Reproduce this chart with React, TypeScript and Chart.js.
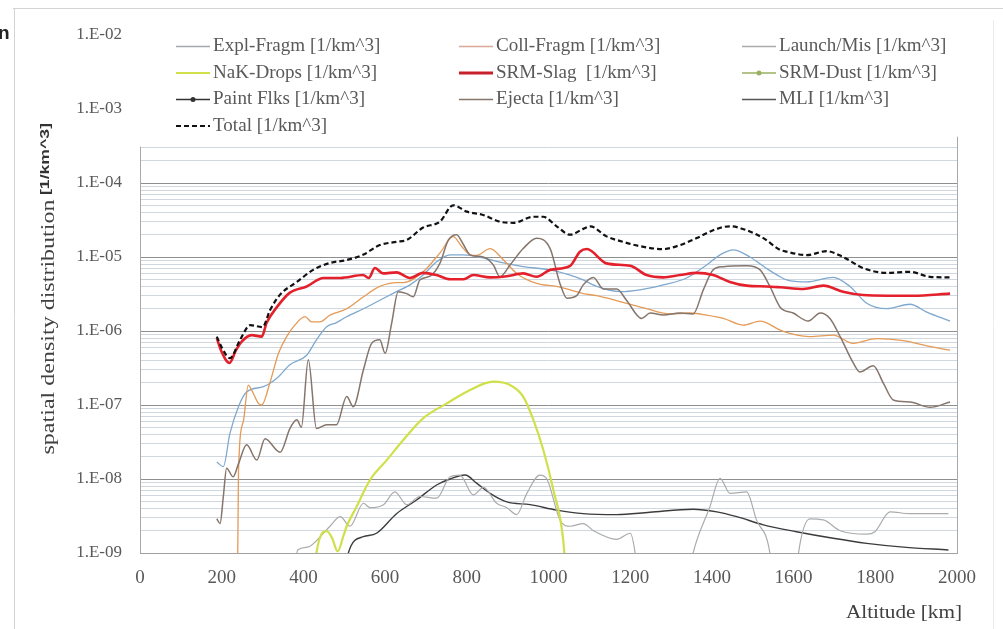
import React, { useEffect, useRef } from 'react';
import { Chart, registerables } from 'chart.js';

Chart.register(...registerables);

// ---------- Data (altitude km, density 1/km^3) ----------
const seriesLabels = [
  'Expl-Fragm [1/km^3]', 'Coll-Fragm [1/km^3]', 'Launch/Mis [1/km^3]',
  'NaK-Drops [1/km^3]', 'SRM-Slag  [1/km^3]', 'SRM-Dust [1/km^3]',
  'Paint Flks [1/km^3]', 'Ejecta [1/km^3]', 'MLI [1/km^3]',
  'Total [1/km^3]',
];

const explData: [number, number][] = [
  [188, 1.7e-8], [204, 1.47e-8], [220, 4.1e-8], [241, 9.5e-8], [261, 1.5e-7], [302, 1.77e-7],
  [335, 2.3e-7], [367, 3.5e-7], [408, 4.7e-7], [432, 7.6e-7], [457, 1.14e-6], [481, 1.3e-6],
  [506, 1.56e-6], [547, 2.0e-6], [587, 2.6e-6], [628, 3.4e-6], [661, 4.2e-6], [693, 5.7e-6],
  [726, 8.6e-6], [759, 1.07e-5], [792, 1.07e-5], [840, 9.7e-6], [890, 8.3e-6], [938, 7.4e-6],
  [1004, 6.7e-6], [1053, 5.7e-6], [1085, 4.9e-6], [1118, 4.0e-6], [1175, 3.4e-6], [1224, 3.6e-6],
  [1281, 4.2e-6], [1338, 5.2e-6], [1387, 7.8e-6], [1420, 1.07e-5], [1452, 1.25e-5], [1493, 1.0e-5],
  [1534, 7.0e-6], [1567, 5.4e-6], [1583, 4.9e-6], [1632, 4.6e-6], [1697, 5.3e-6], [1738, 4.0e-6],
  [1779, 2.37e-6], [1828, 2.0e-6], [1885, 2.3e-6], [1926, 1.8e-6], [1983, 1.36e-6],
];

const collData: [number, number][] = [
  [238, 1e-10], [241, 1.2e-8], [253, 6.0e-8], [265, 1.86e-7], [273, 1.6e-7], [290, 1.05e-7],
  [298, 1.0e-7], [318, 2.0e-7], [339, 5.0e-7], [359, 8.4e-7], [379, 1.2e-6], [404, 1.56e-6],
  [420, 1.33e-6], [440, 1.33e-6], [465, 1.64e-6], [506, 2.0e-6], [547, 2.9e-6], [587, 4.0e-6],
  [628, 4.5e-6], [645, 4.5e-6], [693, 6.3e-6], [734, 1.13e-5], [767, 1.88e-5], [787, 1.4e-5],
  [808, 1.07e-5], [824, 1.05e-5], [857, 1.3e-5], [890, 9.1e-6], [922, 6.0e-6], [971, 4.4e-6],
  [1020, 4.0e-6], [1053, 3.6e-6], [1085, 3.2e-6], [1118, 3.0e-6], [1175, 2.5e-6], [1240, 2.0e-6],
  [1297, 1.7e-6], [1346, 1.75e-6], [1387, 1.64e-6], [1428, 1.48e-6], [1477, 1.2e-6], [1518, 1.36e-6],
  [1567, 1.03e-6], [1591, 9.3e-7], [1640, 8.4e-7], [1697, 8.8e-7], [1746, 6.8e-7], [1803, 7.9e-7],
  [1869, 7.4e-7], [1926, 6.3e-7], [1983, 5.5e-7],
];

const launchData: [number, number][] = [
  [374, 3e-10], [386, 1.1e-9], [410, 1.2e-9], [449, 1.85e-9], [465, 2.3e-9], [490, 3.1e-9],
  [514, 2.3e-9], [547, 4.7e-9], [563, 4.1e-9], [596, 4.5e-9], [624, 6.7e-9], [653, 4.5e-9],
  [685, 5.8e-9], [726, 5.5e-9], [759, 1.07e-8], [783, 1.13e-8], [816, 6.1e-9], [841, 7.7e-9],
  [873, 4.7e-9], [898, 4.1e-9], [922, 3.3e-9], [947, 6.4e-9], [979, 1.13e-8], [996, 1.0e-8],
  [1028, 2.8e-9], [1053, 2.3e-9], [1085, 2.5e-9], [1110, 2.0e-9], [1167, 1.53e-9], [1200, 1.85e-9],
  [1212, 1.0e-9], [1225, 2e-10], [1330, 2e-10], [1354, 1.0e-9], [1395, 4.2e-9], [1420, 1.02e-8],
  [1444, 6.4e-9], [1485, 6.7e-9], [1509, 2.8e-9], [1542, 1.0e-9], [1555, 2e-10], [1600, 2e-10],
  [1612, 1.0e-9], [1640, 2.9e-9], [1673, 2.8e-9], [1714, 2.0e-9], [1779, 1.8e-9], [1799, 1.94e-9],
  [1836, 3.6e-9], [1885, 3.4e-9], [1979, 3.4e-9],
];

const nakData: [number, number][] = [
  [420, 2e-10], [432, 1.0e-9], [457, 1.97e-9], [470, 1.6e-9], [484, 1.05e-9], [498, 1.7e-9],
  [506, 2.3e-9], [530, 4.2e-9], [563, 9.7e-9], [604, 1.8e-8], [645, 3.4e-8], [693, 6.6e-8],
  [751, 1.05e-7], [808, 1.6e-7], [865, 2.07e-7], [906, 1.86e-7], [938, 1.3e-7], [963, 6.3e-8],
  [987, 2.5e-8], [1012, 7.1e-9], [1036, 1.5e-9], [1045, 3e-10],
];

const slagData: [number, number][] = [
  [188, 8.0e-7], [200, 5.2e-7], [219, 3.7e-7], [235, 5.5e-7], [249, 7.2e-7], [273, 8.8e-7],
  [298, 8.4e-7], [310, 1.29e-6], [335, 2.1e-6], [367, 3.3e-6], [408, 4.0e-6], [449, 5.2e-6],
  [490, 5.2e-6], [546, 5.7e-6], [560, 5.2e-6], [575, 7.1e-6], [595, 6.0e-6], [628, 6.2e-6],
  [661, 5.2e-6], [693, 6.1e-6], [726, 5.7e-6], [759, 5.0e-6], [792, 5.0e-6], [816, 5.7e-6],
  [857, 5.3e-6], [898, 5.5e-6], [938, 6.0e-6], [971, 5.4e-6], [1004, 6.7e-6], [1053, 7.6e-6],
  [1077, 1.18e-5], [1094, 1.28e-5], [1142, 8.2e-6], [1200, 7.6e-6], [1240, 5.7e-6], [1281, 5.3e-6],
  [1322, 5.7e-6], [1363, 6.1e-6], [1403, 5.7e-6], [1444, 4.6e-6], [1485, 4.1e-6], [1534, 4.0e-6],
  [1567, 3.9e-6], [1624, 3.7e-6], [1673, 4.1e-6], [1721, 3.4e-6], [1770, 3.06e-6], [1828, 3.0e-6],
  [1893, 3.0e-6], [1983, 3.2e-6],
];

const dustData: [number, number][] = [];
const paintData: [number, number][] = [];

const ejectaData: [number, number][] = [
  [188, 2.9e-9], [196, 2.5e-9], [204, 5.8e-9], [212, 1.4e-8], [228, 1.07e-8], [241, 1.6e-8],
  [261, 2.9e-8], [286, 1.8e-8], [306, 3.5e-8], [343, 2.3e-8], [367, 4.8e-8], [384, 6.3e-8],
  [395, 5.0e-8], [412, 4.1e-7], [432, 4.8e-8], [457, 5.4e-8], [481, 5.4e-8], [506, 1.3e-7],
  [522, 9.5e-8], [547, 3.0e-7], [567, 6.8e-7], [587, 7.6e-7], [600, 5.0e-7], [616, 1.27e-6],
  [632, 3.4e-6], [653, 3.2e-6], [669, 2.9e-6], [685, 4.9e-6], [710, 5.5e-6], [734, 8.2e-6],
  [755, 1.7e-5], [775, 2.0e-5], [791, 1.5e-5], [808, 1.07e-5], [840, 1.0e-5], [865, 7.8e-6],
  [881, 5.4e-6], [906, 7.8e-6], [938, 1.3e-5], [971, 1.79e-5], [1004, 1.3e-5], [1028, 4.4e-6],
  [1045, 2.77e-6], [1069, 3.0e-6], [1085, 4.2e-6], [1110, 5.3e-6], [1134, 3.7e-6], [1167, 3.7e-6],
  [1191, 2.6e-6], [1228, 1.48e-6], [1249, 1.75e-6], [1281, 1.64e-6], [1322, 1.75e-6], [1354, 1.7e-6],
  [1379, 3.6e-6], [1403, 6.7e-6], [1428, 7.4e-6], [1485, 7.6e-6], [1518, 6.7e-6], [1542, 4.0e-6],
  [1567, 2.1e-6], [1599, 1.75e-6], [1636, 1.36e-6], [1665, 1.75e-6], [1689, 1.48e-6], [1714, 8.4e-7],
  [1746, 3.7e-7], [1762, 2.8e-7], [1795, 3.4e-7], [1820, 1.96e-7], [1844, 1.17e-7], [1885, 1.1e-7],
  [1934, 9.3e-8], [1983, 1.1e-7],
];

const mliData: [number, number][] = [
  [498, 2e-10], [510, 1.0e-9], [547, 1.66e-9], [579, 1.85e-9], [628, 3.4e-9], [677, 5.2e-9],
  [726, 8.3e-9], [759, 1.0e-8], [796, 1.13e-8], [824, 8.8e-9], [857, 6.4e-9], [898, 4.9e-9],
  [955, 4.5e-9], [1020, 3.8e-9], [1085, 3.4e-9], [1167, 3.3e-9], [1248, 3.55e-9], [1354, 3.9e-9],
  [1412, 3.6e-9], [1461, 3.1e-9], [1526, 2.4e-9], [1607, 1.94e-9], [1697, 1.58e-9], [1779, 1.35e-9],
  [1869, 1.2e-9], [1979, 1.1e-9],
];

const totalData: [number, number][] = [
  [188, 8.4e-7], [200, 6.0e-7], [220, 4.3e-7], [245, 7.6e-7], [270, 1.2e-6], [300, 1.13e-6],
  [318, 1.9e-6], [343, 3.1e-6], [384, 4.6e-6], [424, 6.7e-6], [465, 8.3e-6], [506, 9.1e-6],
  [546, 1.07e-5], [587, 1.45e-5], [628, 1.6e-5], [653, 1.7e-5], [693, 2.5e-5], [734, 3.0e-5],
  [767, 5.0e-5], [800, 4.1e-5], [840, 3.7e-5], [881, 3.0e-5], [914, 2.9e-5], [963, 3.5e-5],
  [987, 3.5e-5], [1020, 2.6e-5], [1053, 2.0e-5], [1085, 2.4e-5], [1102, 2.6e-5], [1142, 1.9e-5],
  [1183, 1.6e-5], [1224, 1.4e-5], [1281, 1.28e-5], [1322, 1.45e-5], [1363, 1.8e-5], [1403, 2.3e-5],
  [1444, 2.6e-5], [1485, 2.3e-5], [1526, 1.8e-5], [1567, 1.25e-5], [1583, 1.18e-5], [1632, 1.06e-5],
  [1681, 1.2e-5], [1721, 1.0e-5], [1770, 7.1e-6], [1828, 6.1e-6], [1885, 6.3e-6], [1934, 5.4e-6],
  [1983, 5.3e-6],
];

const xTickValues = [0, 200, 400, 600, 800, 1000, 1200, 1400, 1600, 1800, 2000];
const xTickLabels = ['0', '200', '400', '600', '800', '1000', '1200', '1400', '1600', '1800', '2000'];
const yDecades = [1e-9, 1e-8, 1e-7, 1e-6, 1e-5, 1e-4, 1e-3, 1e-2];
const yTickLabels = ['1.E-09', '1.E-08', '1.E-07', '1.E-06', '1.E-05', '1.E-04', '1.E-03', '1.E-02'];

// ---------- Styles ----------
const lineColors = ['#7fa8cf', '#e59a56', '#ababab', '#cfe04a', '#e3202b', '#8fb04a', '#222222', '#85756b', '#3c3c3c', '#111111'];
const legendColors = ['#a2a9b0', '#d9a898', '#ababab', '#cfe04a', '#c8202b', '#9bb060', '#333333', '#85756b', '#555555', '#111111'];
const lineWidths = [1.3, 1.3, 1.2, 2.2, 2.6, 1.3, 1.3, 1.5, 1.4, 2.2];
const drawOrder = [5, 4, 8, 2, 1, 7, 6, 3, 9, 0];
const seriesData = [explData, collData, launchData, nakData, slagData, dustData, paintData, ejectaData, mliData, totalData];

const SERIF = '"Liberation Serif", "Times New Roman", serif';
const SANS = '"Liberation Sans", Arial, sans-serif';

function stretchText(ctx: CanvasRenderingContext2D, text: string, x: number, y: number, font: string, color: string, opts: { align?: 'left' | 'right' | 'center'; sx?: number; target?: number; rotate?: number }) {
  ctx.save();
  ctx.font = font;
  ctx.fillStyle = color;
  ctx.textBaseline = 'middle';
  ctx.textAlign = opts.align || 'left';
  ctx.translate(x, y);
  if (opts.rotate) ctx.rotate(opts.rotate);
  let sx = opts.sx || 1;
  if (opts.target) sx = opts.target / ctx.measureText(text).width;
  ctx.scale(sx, 1);
  ctx.fillText(text, 0, 0);
  ctx.restore();
}

const decorPlugin = {
  id: 'decor',
  beforeDatasetsDraw(chart: any) {
    const { ctx, chartArea } = chart;
    const yTop = chart.scales.y.getPixelForValue(3e-4);
    ctx.save();
    ctx.strokeStyle = '#a9a9a9';
    ctx.lineWidth = 1;
    ctx.beginPath();
    ctx.moveTo(Math.round(chartArea.left) + 0.5, yTop - 1);
    ctx.lineTo(Math.round(chartArea.left) + 0.5, chartArea.bottom);
    ctx.moveTo(Math.round(chartArea.right) + 0.5, yTop - 11);
    ctx.lineTo(Math.round(chartArea.right) + 0.5, chartArea.bottom);
    ctx.stroke();
    ctx.restore();
  },
  afterDraw(chart: any) {
    const { ctx } = chart;
    // outer frame of the figure
    ctx.save();
    ctx.strokeStyle = '#d4d4d4';
    ctx.lineWidth = 1;
    ctx.beginPath();
    ctx.moveTo(13, 8.5); ctx.lineTo(1003, 8.5);
    ctx.moveTo(14.5, 8); ctx.lineTo(14.5, 629);
    ctx.stroke();
    ctx.strokeStyle = '#ececec';
    ctx.beginPath();
    ctx.moveTo(993.5, 20); ctx.lineTo(993.5, 629);
    ctx.stroke();
    ctx.restore();

    // cut-off letter at top-left
    stretchText(ctx, 'n', -2, 34, `bold 19px ${SANS}`, '#222', {});

    // legend
    const colX = [176, 459, 742];
    const rowY0 = 46.5, rowStep = 26.5;
    const ds = chart.data.datasets;
    for (let i = 0; i < ds.length; i++) {
      const col = i % 3, row = Math.floor(i / 3);
      const x = colX[col], y = rowY0 + row * rowStep;
      ctx.save();
      ctx.strokeStyle = legendColors[i];
      ctx.lineWidth = i === 4 ? 3 : i === 3 ? 2 : i === 9 ? 2 : 1.3;
      if (i === 9) ctx.setLineDash([5, 3]);
      ctx.beginPath();
      ctx.moveTo(x, y); ctx.lineTo(x + 34, y);
      ctx.stroke();
      ctx.setLineDash([]);
      if (i === 5 || i === 6) {
        ctx.fillStyle = legendColors[i];
        ctx.beginPath();
        ctx.arc(x + 17, y, 2.5, 0, Math.PI * 2);
        ctx.fill();
      }
      ctx.restore();
      stretchText(ctx, ds[i].label, x + 37, y, `18px ${SERIF}`, '#595959', { sx: 1.06 });
    }

    // axis titles
    stretchText(ctx, 'spatial density distribution', 49, 327, `19px ${SERIF}`, '#404040', { align: 'center', rotate: -Math.PI / 2, target: 255 });
    stretchText(ctx, '[1/km^3]', 45, 159, `bold 13px ${SANS}`, '#333', { align: 'center', rotate: -Math.PI / 2, target: 72 });
    stretchText(ctx, 'Altitude [km]', 962, 613, `19px ${SERIF}`, '#404040', { align: 'right', target: 116 });
  },
};

export default function App() {
  const ref = useRef<HTMLCanvasElement>(null);
  useEffect(() => {
    if (!ref.current) return;
    const datasets = seriesLabels.map((label, i) => ({
      label,
      data: seriesData[i].map(([x, y]) => ({ x, y })),
      borderColor: lineColors[i],
      backgroundColor: lineColors[i],
      borderWidth: lineWidths[i],
      borderDash: i === 9 ? [5, 3] : [],
      pointRadius: 0,
      fill: false,
      cubicInterpolationMode: 'monotone' as const,
      order: drawOrder[i],
    }));
    const chart = new Chart(ref.current, {
      type: 'line',
      data: { datasets },
      options: {
        animation: false,
        responsive: true,
        maintainAspectRatio: false,
        layout: { padding: { left: 0, top: 35, right: 46, bottom: 0 } },
        plugins: { legend: { display: false }, tooltip: { enabled: false } },
        scales: {
          x: {
            type: 'linear',
            min: 0,
            max: 2000,
            afterBuildTicks: (s: any) => { s.ticks = xTickValues.map((v) => ({ value: v })); },
            afterFit: (s: any) => { s.height = 76; },
            ticks: {
              autoSkip: false,
              maxRotation: 0,
              padding: 14,
              color: '#595959',
              font: { family: SERIF, size: 19 },
              callback: (_v: any, i: number) => xTickLabels[i],
            },
            grid: { display: false, drawTicks: false },
            border: { display: true, color: '#a0a0a0', width: 1 },
          },
          y: {
            type: 'logarithmic',
            min: 1e-9,
            max: 1e-2,
            afterBuildTicks: (s: any) => {
              const t: any[] = [];
              yDecades.forEach((d, i) => {
                t.push({ value: d, major: true, label: yTickLabels[i] });
                if (i < yDecades.length - 1) for (let k = 2; k <= 9; k++) t.push({ value: k * d, major: false, label: '' });
              });
              s.ticks = t;
            },
            afterFit: (s: any) => { s.width = 140; },
            ticks: {
              autoSkip: false,
              padding: 18,
              color: '#595959',
              font: { family: SERIF, size: 17 },
              callback: function (this: any, _v: any, i: number) { return this.ticks[i].label; },
            },
            grid: {
              drawTicks: false,
              lineWidth: 1,
              color: (c: any) => {
                const v = c.tick ? c.tick.value : 0;
                if (v > 3.5e-4) return 'rgba(0,0,0,0)';
                return c.tick.major ? '#8f8f8f' : '#d0d7de';
              },
            },
            border: { display: false },
          },
        },
      },
      plugins: [decorPlugin],
    } as any);
    return () => chart.destroy();
  }, []);
  return (
    <div style={{ position: 'absolute', left: 0, top: 0, width: 1003, height: 629, background: '#fff' }}>
      <canvas ref={ref} />
    </div>
  );
}
